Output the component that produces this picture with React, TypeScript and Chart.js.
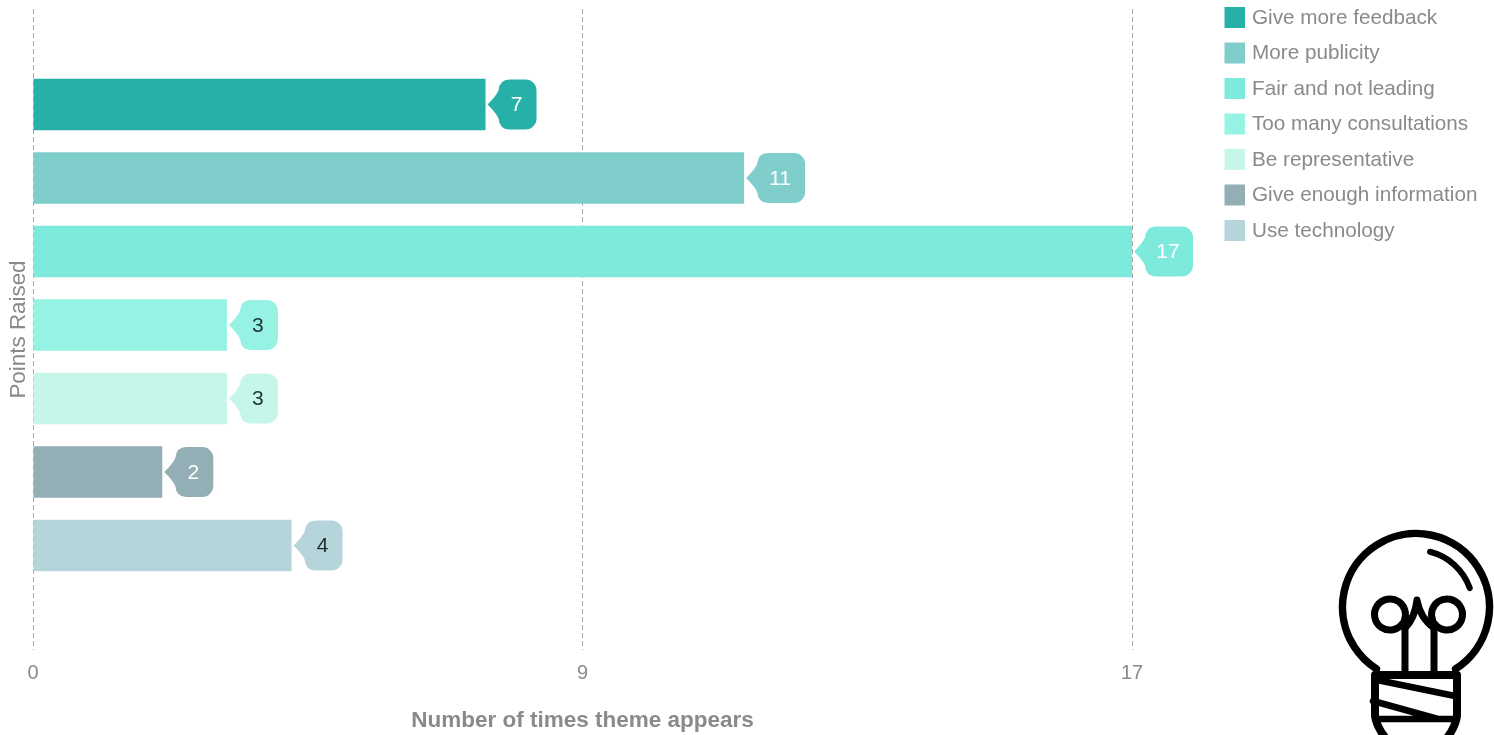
import React, { useEffect, useRef } from "react";
import { Chart, registerables } from "chart.js";

Chart.register(...registerables);

const themes = [
  "Give more feedback",
  "More publicity",
  "Fair and not leading",
  "Too many consultations",
  "Be representative",
  "Give enough information",
  "Use technology",
];
const timesRaised = [7, 11, 17, 3, 3, 2, 4];
const barColors = ["#26B0A8", "#80CECB", "#7EEADB", "#96F3E4", "#C6F6EA", "#94AEB6", "#B6D5DB"];
const calloutTextColors = ["#FFFFFF", "#FFFFFF", "#FFFFFF", "#1F3333", "#1F3333", "#FFFFFF", "#1F2A2A"];
const xTickValues = [0, 8.5, 17];
const xTickLabels = ["0", "9", "17"];
const xAxisTitle = "Number of times theme appears";
const yAxisTitle = "Points Raised";

const FONT = '"Liberation Sans", Arial, sans-serif';
const GREY = "#8A8A8A";

// Rounded value bubble with a small pointer aimed at the end of each bar.
const calloutPlugin = {
  id: "valueCallouts",
  afterDatasetsDraw(chart: any) {
    const { ctx } = chart;
    chart.data.datasets.forEach((ds: any, i: number) => {
      const bar = chart.getDatasetMeta(i).data[0];
      const label = String(ds.data[0]);
      const tip = bar.x + 2;
      const left = tip + 11;
      const width = label.length > 1 ? 48 : 38;
      const top = bar.y - 25;
      const h = 50;
      const r = 11;
      ctx.save();
      ctx.fillStyle = ds.backgroundColor;
      ctx.beginPath();
      ctx.moveTo(left + r, top);
      ctx.arcTo(left + width, top, left + width, top + h, r);
      ctx.arcTo(left + width, top + h, left, top + h, r);
      ctx.lineTo(left + r, top + h);
      ctx.quadraticCurveTo(left + 1, top + h, left, bar.y + 14);
      ctx.quadraticCurveTo(left - 2, bar.y + 9, tip, bar.y);
      ctx.quadraticCurveTo(left - 2, bar.y - 9, left, bar.y - 14);
      ctx.quadraticCurveTo(left + 1, top, left + r, top);
      ctx.closePath();
      ctx.fill();
      ctx.fillStyle = calloutTextColors[i];
      ctx.font = `21px ${FONT}`;
      ctx.textAlign = "center";
      ctx.textBaseline = "middle";
      ctx.fillText(label, left + width / 2 - 1, bar.y + 1);
      ctx.restore();
    });
  },
};

// Legend column to the right of the plot, built from the datasets.
const sideLegendPlugin = {
  id: "sideLegend",
  afterDraw(chart: any) {
    const { ctx } = chart;
    ctx.save();
    ctx.font = `20.7px ${FONT}`;
    ctx.textBaseline = "middle";
    ctx.textAlign = "left";
    chart.data.datasets.forEach((ds: any, i: number) => {
      const y = 7 + i * 35.5;
      ctx.fillStyle = ds.backgroundColor;
      ctx.fillRect(1224.5, y, 20.5, 21);
      ctx.fillStyle = GREY;
      ctx.fillText(ds.label, 1252, y + 11);
    });
    ctx.restore();
  },
};

// Light bulb emblem in the lower right corner.
const bulbPlugin = {
  id: "bulbEmblem",
  afterDraw(chart: any) {
    const { ctx } = chart;
    ctx.save();
    ctx.strokeStyle = "#000";
    ctx.lineCap = "round";
    ctx.lineJoin = "round";

    // Glass
    ctx.lineWidth = 7.5;
    ctx.beginPath();
    ctx.arc(1416, 607, 73.5, Math.atan2(61, 39), Math.atan2(61, -39), true);
    ctx.stroke();

    // Highlight
    ctx.lineWidth = 6;
    ctx.beginPath();
    ctx.arc(1416, 607, 57, Math.atan2(-55, 14), Math.atan2(-19, 54));
    ctx.stroke();

    // Filament
    ctx.lineWidth = 7;
    ctx.beginPath();
    ctx.moveTo(1405, 675);
    ctx.lineTo(1405, 625);
    ctx.arc(1390, 614.5, 15.5, 0.6, 0.6 + Math.PI * 2 - 0.2, false);
    ctx.stroke();
    ctx.beginPath();
    ctx.moveTo(1434, 675);
    ctx.lineTo(1434, 625);
    ctx.arc(1447, 614.5, 15.5, Math.PI - 0.6, Math.PI - 0.6 - Math.PI * 2 + 0.2, true);
    ctx.stroke();
    ctx.beginPath();
    ctx.moveTo(1405, 628);
    ctx.quadraticCurveTo(1415, 618, 1417, 600);
    ctx.quadraticCurveTo(1420, 618, 1434, 628);
    ctx.stroke();

    // Screw base
    ctx.lineWidth = 8;
    ctx.beginPath();
    ctx.moveTo(1375, 675);
    ctx.lineTo(1457, 675);
    ctx.moveTo(1375, 675);
    ctx.lineTo(1375, 716);
    ctx.quadraticCurveTo(1377, 730, 1392, 745);
    ctx.moveTo(1457, 675);
    ctx.lineTo(1457, 716);
    ctx.quadraticCurveTo(1455, 730, 1441, 745);
    ctx.stroke();
    ctx.lineWidth = 6.5;
    ctx.beginPath();
    ctx.moveTo(1377, 680);
    ctx.lineTo(1455, 696);
    ctx.moveTo(1373, 701);
    ctx.lineTo(1438, 719);
    ctx.moveTo(1376, 719);
    ctx.lineTo(1456, 719);
    ctx.stroke();
    ctx.restore();
  },
};

export default function App() {
  const canvasRef = useRef<HTMLCanvasElement | null>(null);

  useEffect(() => {
    const chart = new Chart(canvasRef.current!, {
      type: "bar",
      data: {
        labels: [yAxisTitle],
        datasets: themes.map((label, i) => ({
          label,
          data: [timesRaised[i]],
          backgroundColor: barColors[i],
          categoryPercentage: 0.8027,
          barPercentage: 0.7,
        })),
      },
      plugins: [calloutPlugin, sideLegendPlugin, bulbPlugin],
      options: {
        indexAxis: "y",
        responsive: false,
        animation: false,
        layout: { padding: { top: 9, right: 362, left: 0, bottom: 0 } },
        plugins: {
          legend: { display: false },
          tooltip: { enabled: false },
        },
        scales: {
          x: {
            min: 0,
            max: 17,
            afterFit: (s: any) => {
              s.height = 85;
            },
            afterBuildTicks: (s: any) => {
              s.ticks = xTickValues.map((value) => ({ value }));
            },
            grid: { color: "#ABABAB", lineWidth: 1, drawTicks: false },
            border: { display: false, dash: [5, 3] },
            ticks: {
              autoSkip: false,
              maxRotation: 0,
              padding: 11,
              color: GREY,
              font: { family: FONT, size: 20 },
              callback: (_v: any, i: number) => xTickLabels[i],
            },
            title: {
              display: true,
              text: xAxisTitle,
              color: GREY,
              font: { family: FONT, size: 22.5, weight: "bold" },
              padding: { top: 0, bottom: 1 },
            },
          },
          y: {
            afterFit: (s: any) => {
              s.width = 33;
            },
            // The bar group sits slightly above the middle of the plot.
            afterUpdate: (s: any) => {
              if (s.groupShifted) return;
              s.groupShifted = true;
              const base = s.getPixelForValue.bind(s);
              s.getPixelForValue = (...args: any[]) => base(...args) - 4.5;
            },
            grid: { display: false },
            border: { display: false },
            ticks: { display: false },
            title: {
              display: true,
              text: yAxisTitle,
              color: GREY,
              font: { family: FONT, size: 22.4 },
              padding: { top: 5, bottom: 0 },
            },
          },
        },
      },
    } as any);
    return () => chart.destroy();
  }, []);

  return (
    <div style={{ position: "absolute", left: 0, top: 0, width: 1494, height: 735, overflow: "hidden", background: "#fff" }}>
      <canvas ref={canvasRef} width={1494} height={735} style={{ display: "block" }} />
    </div>
  );
}
